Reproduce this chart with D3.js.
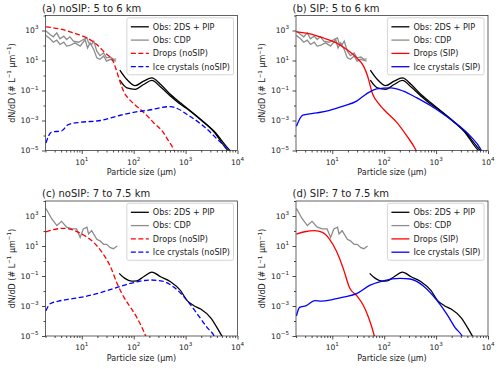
<!DOCTYPE html>
<html>
<head>
<meta charset="utf-8">
<script src="https://cdn.jsdelivr.net/npm/d3@7"></script>
<style>
body { margin: 0; background: #fff; }
svg { font-family: "DejaVu Sans", sans-serif; }
</style>
</head>
<body>
<div id="chart"></div>
<script>
// [particle size (µm), dN/dD (# L-1 µm-1)]
// observations, 5 to 6 km (two profiles)
var obs56Hi = [[54, 2.3], [74, 0.54], [107, 0.21], [155, 0.42], [224, 0.69], [331, 0.25], [513, 0.054], [794, 0.015], [1000, 8e-3], [1950, 1.2e-3], [3550, 1.9e-4], [6460, 1.5e-5], [7400, 9e-6]];
var obs56Lo = [[54, 0.49], [74, 0.15], [107, 0.12], [155, 0.25], [224, 0.47], [331, 0.17], [513, 0.042], [794, 0.012], [1000, 7e-3], [1950, 1.1e-3], [3550, 1.7e-4], [5900, 1.5e-5], [6800, 9e-6]];
var cdp56Hi = [[2.04, 910], [2.45, 540], [2.82, 380], [3.3, 700], [3.8, 280], [4.5, 420], [5.1, 250], [5.9, 380], [6.9, 195], [8.7, 166], [10.7, 250], [12.6, 325], [13.5, 150], [15.5, 117], [17, 195], [19.5, 42], [22.4, 21], [26.3, 32], [30, 15], [35.5, 17], [40.7, 12], [46, 13]];
var cdp56Lo = [[2.04, 470], [2.45, 280], [2.82, 166], [3.3, 230], [3.8, 117], [4.5, 166], [5.1, 91], [5.9, 100], [7.4, 150], [9.3, 91], [11.6, 250], [12.9, 69], [14.5, 150], [17, 54], [19.5, 15], [22.4, 12], [26.3, 20], [30, 9.1], [35.5, 12], [40.7, 10], [46, 9.1]];
// observations, 7 to 7.5 km
var obs7 = [[52.5, 0.15], [67.6, 0.069], [91, 0.046], [115, 0.048], [155, 0.089], [224, 0.18], [331, 0.089], [513, 0.041], [794, 0.011], [1072, 2.3e-3], [1445, 1.05e-3], [1950, 6.3e-4], [3020, 1.7e-4], [5012, 1e-5], [5500, 6e-6]];
var cdp7 = [[2.04, 3160], [2.63, 660], [3.31, 230], [4.07, 440], [5.13, 178], [6.46, 138], [7.94, 138], [9.3, 37], [10.7, 138], [12.6, 178], [13.5, 63], [15.5, 105], [19.5, 28], [22.4, 22], [26.3, 13], [30.2, 13], [35.5, 7.8], [40.7, 6.6], [47.9, 10]];
// model, 5 to 6 km
var dropsNoSIP56 = [[2.04, 1740], [3.8, 1260], [6.9, 690], [12.6, 316], [19.5, 117], [28, 32], [40, 9.1], [47, 2], [55, 0.35], [66, 0.07], [79, 0.03], [100, 0.013], [135, 5.4e-3], [178, 2.2e-3], [240, 7.4e-4], [372, 1.6e-4], [457, 5e-5], [562, 1.6e-5], [617, 8e-6]];
var iceNoSIP56 = [[2.04, 3.2e-5], [2.6, 1.7e-4], [4.1, 2e-4], [5.5, 5.4e-4], [9.5, 7.6e-4], [23, 1e-3], [49, 2e-3], [87, 3.2e-3], [200, 5e-3], [513, 8.5e-3], [692, 6.3e-3], [1070, 2.5e-3], [1950, 6e-4], [2630, 2.5e-4], [4000, 6e-5], [6300, 1.2e-5], [7000, 7e-6]];
var dropsSIP56 = [[2.04, 813], [3.7, 603], [6.8, 316], [12, 151], [19, 54], [29.5, 15], [40, 4.2], [48, 0.9], [54, 0.2], [58, 0.08], [63, 0.04], [75, 0.016], [98, 5.4e-3], [178, 6.9e-4], [275, 9e-5], [400, 1.2e-5], [430, 7e-6]];
var iceSIP56 = [[2.04, 4.2e-4], [2.7, 2.3e-3], [5, 3.2e-3], [8.9, 4.7e-3], [16.2, 9.1e-3], [29.5, 0.0195], [45.7, 0.06], [72, 0.13], [132, 0.15], [234, 0.091], [427, 0.032], [776, 0.01], [1413, 2.5e-3], [2570, 5.4e-4], [4571, 9.1e-5], [7244, 1.2e-5], [7800, 7e-6]];
// model, 7 to 7.5 km
var dropsNoSIP7 = [[2.04, 89], [2.82, 123], [4.47, 151], [6.46, 123], [10, 63], [17, 17], [26.3, 2.7], [35.5, 0.44], [47.9, 0.032], [64.6, 3.9e-3], [87, 8.1e-4], [115, 1.7e-4], [170, 1e-5], [180, 6e-6]];
var iceNoSIP7 = [[2.04, 4.8e-4], [2.45, 1.4e-3], [3.55, 2.1e-3], [5.13, 2.7e-3], [10, 3.9e-3], [19.5, 6.6e-3], [40.7, 0.0145], [87, 0.032], [209, 0.054], [331, 0.048], [589, 0.0186], [1072, 2.3e-3], [1698, 2.8e-4], [2630, 3.5e-5], [3548, 1e-5], [3800, 6e-6]];
var dropsSIP7 = [[2.04, 63], [2.95, 89], [4.57, 105], [6.46, 81], [8.9, 28], [12, 4.6], [16.2, 0.33], [21.9, 0.0145], [29.5, 5e-3], [40, 1.05e-3], [50, 1.7e-4], [64.6, 1e-5], [67, 6e-6]];
var iceSIP7 = [[2.04, 2.2e-4], [2.34, 8.1e-4], [3.16, 1.05e-3], [4.57, 2.3e-3], [6.17, 2.1e-3], [10, 2.7e-3], [16.2, 3.9e-3], [29.5, 6.6e-3], [53.7, 0.0245], [95.5, 0.048], [204, 0.069], [316, 0.063], [575, 0.021], [1047, 2.3e-3], [1622, 2.8e-4], [2344, 3.5e-5], [3162, 1e-5], [3400, 6e-6]];

var xMajor = [10, 100, 1000, 10000];
var yMajor = [1e-5, 1e-3, 1e-1, 1e1, 1e3];
var yMinor = [1e-4, 1e-2, 1, 1e2, 1e4];

window.onload = () => {
	var W = 500, H = 369;
	var pw = 192, ph = 135;
	var svg = d3.select("#chart").append("svg")
		.attr("width", W)
		.attr("height", H);

	var panels = [
		{ key: "a", title: "(a) noSIP: 5 to 6 km", left: 45.5, top: 15.5, tag: "noSIP", dash: "5,2.5",
			obs: [obs56Hi, obs56Lo], cdp: [cdp56Hi, cdp56Lo], drops: dropsNoSIP56, ice: iceNoSIP56 },
		{ key: "b", title: "(b) SIP: 5 to 6 km", left: 296, top: 15.5, tag: "SIP", dash: null,
			obs: [obs56Hi, obs56Lo], cdp: [cdp56Hi, cdp56Lo], drops: dropsSIP56, ice: iceSIP56 },
		{ key: "c", title: "(c) noSIP: 7 to 7.5 km", left: 45.5, top: 201, tag: "noSIP", dash: "5,2.5",
			obs: [obs7], cdp: [cdp7], drops: dropsNoSIP7, ice: iceNoSIP7 },
		{ key: "d", title: "(d) SIP: 7 to 7.5 km", left: 296, top: 201, tag: "SIP", dash: null,
			obs: [obs7], cdp: [cdp7], drops: dropsSIP7, ice: iceSIP7 }
	];

	var x = d3.scaleLog().domain([2, 1e4]).range([0, pw]);
	var y = d3.scaleLog().domain([1e-5, 1e4]).range([ph, 0]);
	var line = d3.line().x(d => x(d[0])).y(d => y(d[1]));
	var smooth = d3.line().x(d => x(d[0])).y(d => y(d[1])).curve(d3.curveMonotoneX);

	// minor ticks of the log x axis
	var xMinor = [];
	[1, 10, 100, 1000].forEach(dec => {
		for (var k = 2; k <= 9; k++) {
			if (dec * k >= 2) xMinor.push(dec * k);
		}
	});

	function pow10(g, v, anchor) {
		var e = Math.round(Math.log10(v));
		g.attr("text-anchor", anchor);
		g.append("tspan").text("10");
		g.append("tspan")
			.attr("dy", -3.8)
			.attr("font-size", "5.6px")
			.text(e < 0 ? "\u2212" + (-e) : e);
	}

	panels.forEach(p => {
		var g = svg.append("g")
			.attr("transform", "translate(" + p.left + ", " + p.top + ")");

		g.append("clipPath").attr("id", "clip-" + p.key)
			.append("rect").attr("width", pw).attr("height", ph);

		// axes
		var xAx = g.append("g").attr("transform", "translate(0, " + ph + ")");
		xAx.call(d3.axisBottom(x).tickValues(xMajor).tickSize(3.5).tickFormat(""));
		xAx.append("g").call(d3.axisBottom(x).tickValues(xMinor).tickSize(2).tickFormat(""));
		var yAx = g.append("g");
		yAx.call(d3.axisLeft(y).tickValues(yMajor).tickSize(3.5).tickFormat(""));
		yAx.append("g").call(d3.axisLeft(y).tickValues(yMinor).tickSize(2).tickFormat(""));
		g.selectAll(".domain").remove();
		g.selectAll(".tick line").attr("stroke", "#000").attr("stroke-width", 0.7);

		xMajor.forEach(v => {
			var t = g.append("text")
				.attr("x", x(v))
				.attr("y", ph + 14)
				.attr("font-size", "7.6px")
				.attr("fill", "#222");
			pow10(t, v, "middle");
		});
		yMajor.forEach(v => {
			var t = g.append("text")
				.attr("x", -7)
				.attr("y", y(v) + 2.8)
				.attr("font-size", "7.6px")
				.attr("fill", "#222");
			pow10(t, v, "end");
		});

		// curves
		var plot = g.append("g").attr("clip-path", "url(#clip-" + p.key + ")");
		p.cdp.forEach(s => {
			plot.append("path").datum(s)
				.attr("d", line).attr("fill", "none")
				.attr("stroke", "#8c8c8c").attr("stroke-width", 1.3);
		});
		p.obs.forEach(s => {
			plot.append("path").datum(s)
				.attr("d", smooth).attr("fill", "none")
				.attr("stroke", "#000").attr("stroke-width", 1.3);
		});
		plot.append("path").datum(p.drops)
			.attr("d", smooth).attr("fill", "none")
			.attr("stroke", "#ff0000").attr("stroke-width", 1.3)
			.attr("stroke-dasharray", p.dash);
		plot.append("path").datum(p.ice)
			.attr("d", smooth).attr("fill", "none")
			.attr("stroke", "#0000ff").attr("stroke-width", 1.3)
			.attr("stroke-dasharray", p.dash);

		// frame
		g.append("rect")
			.attr("width", pw).attr("height", ph)
			.attr("fill", "none").attr("stroke", "#222").attr("stroke-width", 0.7);

		// title and labels
		g.append("text")
			.attr("x", -3.5)
			.attr("y", -4)
			.attr("font-size", "10px")
			.attr("fill", "#222")
			.text(p.title);
		g.append("text")
			.attr("x", pw / 2)
			.attr("y", ph + 24.5)
			.attr("text-anchor", "middle")
			.attr("font-size", "8px")
			.attr("fill", "#222")
			.text("Particle size (\u00b5m)");
		var yl = g.append("text")
			.attr("transform", "translate(-31, " + (ph / 2) + ") rotate(-90)")
			.attr("text-anchor", "middle")
			.attr("font-size", "8px")
			.attr("fill", "#222");
		yl.append("tspan").text("dN/dD (# L");
		yl.append("tspan").attr("dy", -3.5).attr("font-size", "5.6px").text("\u22121");
		yl.append("tspan").attr("dy", 3.5).text(" \u00b5m");
		yl.append("tspan").attr("dy", -3.5).attr("font-size", "5.6px").text("\u22121");
		yl.append("tspan").attr("dy", 3.5).text(")");

		// legend
		var items = [
			{ label: "Obs: 2DS + PIP", color: "#000", dash: null },
			{ label: "Obs: CDP", color: "#8c8c8c", dash: null },
			{ label: "Drops (" + p.tag + ")", color: "#ff0000", dash: p.dash },
			{ label: "Ice crystals (" + p.tag + ")", color: "#0000ff", dash: p.dash }
		];
		var leg = g.append("g");
		var box = leg.append("rect")
			.attr("rx", 2).attr("ry", 2)
			.attr("fill", "#fff").attr("fill-opacity", 0.8)
			.attr("stroke", "#cccccc").attr("stroke-width", 0.8);
		var maxW = 0;
		items.forEach((it, i) => {
			var row = leg.append("g").attr("transform", "translate(0, " + (9 + i * 13.3) + ")");
			row.append("line")
				.attr("x1", 4).attr("x2", 22)
				.attr("stroke", it.color).attr("stroke-width", 1.3)
				.attr("stroke-dasharray", it.dash);
			var t = row.append("text")
				.attr("x", 26).attr("y", 2.8)
				.attr("font-size", "8.1px")
				.attr("fill", "#222")
				.text(it.label);
			maxW = Math.max(maxW, t.node().getComputedTextLength());
		});
		var lw = 26 + maxW + 3.5;
		var lh = 57;
		box.attr("width", lw).attr("height", lh);
		leg.attr("transform", "translate(" + (pw - 4 - lw) + ", 2.3)");
	});
};
</script>
</body>
</html>
